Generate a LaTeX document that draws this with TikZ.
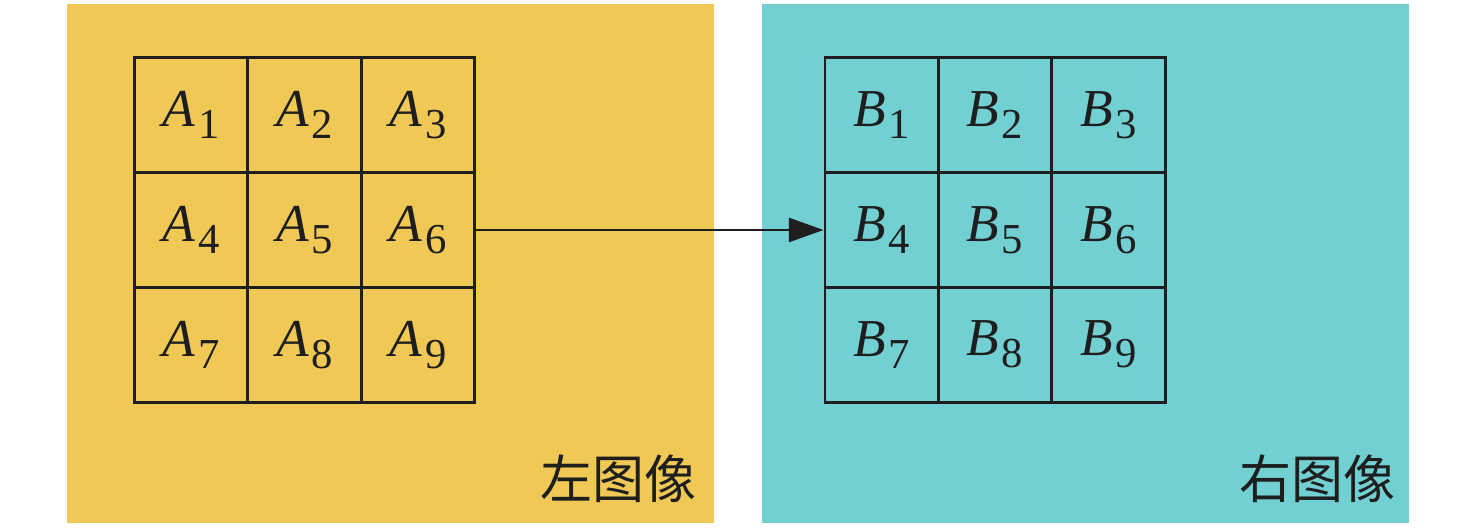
\documentclass[tikz,border=0pt]{standalone}
\usepackage{fontspec}
\newfontfamily\tms{LiberationSerif}[Extension=.ttf, UprightFont=*-Regular, ItalicFont=*-Italic, BoldFont=*-Bold, BoldItalicFont=*-BoldItalic]
\newfontfamily\cjk{Noto Sans CJK SC}
\usetikzlibrary{arrows.meta}
\definecolor{panelY}{HTML}{F0C855}
\definecolor{panelC}{HTML}{72CFD2}
\definecolor{ink}{HTML}{1E1E1E}
\newcommand{\cellsym}[2]{{\tms\fontsize{40}{40}\selectfont\itshape #1}\hspace{2pt}\raisebox{-9pt}{\tms\fontsize{32}{32}\selectfont #2}}
\tikzset{
  gridcell/.style={draw=ink, line width=2.2pt, minimum width=85.1pt, minimum height=86pt, inner sep=0pt, anchor=north west, text=ink},
  imglabel/.style={font=\cjk\fontsize{39}{39}\selectfont, text=ink, inner sep=0pt, anchor=base east},
  flow/.style={draw=ink, line width=2pt, -{Triangle[length=26pt,width=18pt]}}
}
\begin{document}
\begin{tikzpicture}[x=0.75pt,y=-0.75pt]
\useasboundingbox (0,0) rectangle (1476,528);
\fill[white] (0,0) rectangle (1476,528);
\fill[panelY] (67,4) rectangle (714,523);
\fill[panelC] (762,4) rectangle (1409,523);
% grids
\foreach \r in {0,1,2}{
  \foreach \c in {0,1,2}{
    \pgfmathtruncatemacro{\k}{\r*3+\c+1}
    \node[gridcell] (A\k) at ({133+113.5*\c},{56.5+114.7*\r}) {\cellsym{A}{\k}};
    \node[gridcell] (B\k) at ({823.5+113.3*\c},{56.5+114.7*\r}) {\cellsym{B}{\k}};
  }
}
\draw[flow] (A6.east) -- (B4.west);
\node[imglabel] (L) at (697,498) {左图像};
\node[imglabel] (R) at (1396,498) {右图像};
\end{tikzpicture}
\end{document}
